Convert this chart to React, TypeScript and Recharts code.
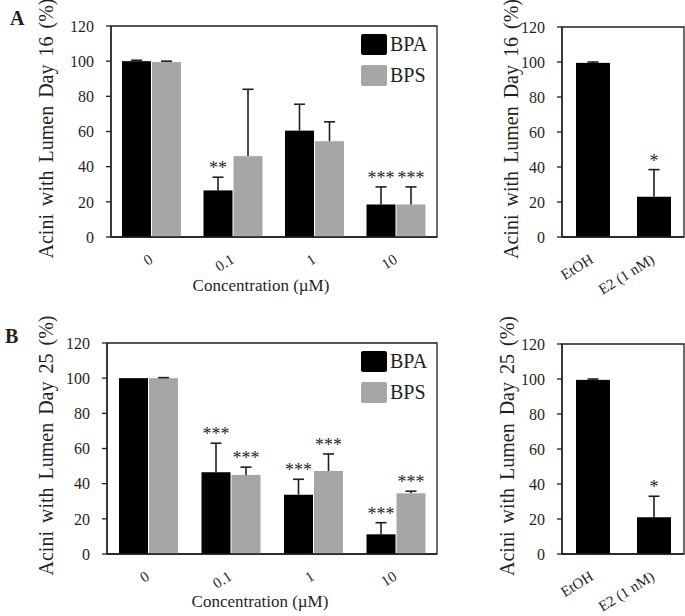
import React from 'react'
import { BarChart, Bar, XAxis, YAxis, Legend, ReferenceArea } from 'recharts'

const FONT = '"Liberation Serif", "Times New Roman", serif'
const INK = '#1f1f1f'
const BPA_COLOR = '#000000'
const BPS_COLOR = '#a6a6a6'

const concentrations = ['0', '0.1', '1', '10']
const controls = ['EtOH', 'E2 (1 nM)']
const yTicks = [0, 20, 40, 60, 80, 100, 120]

// day 16
const bpaDay16 = [100, 26.5, 60.5, 18.5]
const bpaDay16Err = [0.5, 7.5, 15, 10]
const bpaDay16Stars = ['', '**', '', '***']
const bpsDay16 = [99.5, 46, 54.5, 18.5]
const bpsDay16Err = [0.5, 38, 11, 10]
const bpsDay16Stars = ['', '', '', '***']
const ctrlDay16 = [99.5, 23]
const ctrlDay16Err = [0.5, 15.5]
const ctrlDay16Stars = ['', '*']

// day 25
const bpaDay25 = [100, 46.5, 33.7, 11.2]
const bpaDay25Err = [0, 16.5, 8.8, 6.6]
const bpaDay25Stars = ['', '***', '***', '***']
const bpsDay25 = [100, 45, 47.2, 34.5]
const bpsDay25Err = [0.3, 4.4, 9.7, 1.2]
const bpsDay25Stars = ['', '***', '***', '***']
const ctrlDay25 = [99.5, 21]
const ctrlDay25Err = [0.5, 12]
const ctrlDay25Stars = ['', '*']

type Row = Record<string, string | number>
type Series = { key: string; name: string; color: string }

function doseRows(bpa: number[], bpaErr: number[], bpaStars: string[], bps: number[], bpsErr: number[], bpsStars: string[]): Row[] {
  return concentrations.map((c, i) => ({
    name: c,
    BPA: bpa[i], BPAErr: bpaErr[i], BPAStar: bpaStars[i],
    BPS: bps[i], BPSErr: bpsErr[i], BPSStar: bpsStars[i],
  }))
}

function ctrlRows(vals: number[], errs: number[], stars: string[]): Row[] {
  return controls.map((c, i) => ({ name: c, value: vals[i], valueErr: errs[i], valueStar: stars[i] }))
}

const doseSeries: Series[] = [
  { key: 'BPA', name: 'BPA', color: BPA_COLOR },
  { key: 'BPS', name: 'BPS', color: BPS_COLOR },
]
const ctrlSeries: Series[] = [{ key: 'value', name: 'Control', color: BPA_COLOR }]

// bar + upper whisker + significance stars
const barWithError = (key: string) => (props: any) => {
  const { x, y, width, height, fill, payload } = props
  const value = Number(payload[key])
  const err = Number(payload[key + 'Err'] ?? 0)
  const star = String(payload[key + 'Star'] ?? '')
  const perUnit = value ? height / value : 0
  const cx = x + width / 2
  const top = y - err * perUnit
  return (
    <g>
      <rect x={x} y={y} width={width} height={height} fill={fill} />
      {err > 0 && (
        <>
          <line x1={cx} x2={cx} y1={y} y2={top} stroke={INK} strokeWidth={1.6} />
          <line x1={cx - 5.5} x2={cx + 5.5} y1={top} y2={top} stroke={INK} strokeWidth={1.6} />
        </>
      )}
      {star && (
        <text x={cx} y={top - 3} textAnchor="middle" fontSize={18} fontFamily={FONT} fill={INK}>
          {star}
        </text>
      )}
    </g>
  )
}

const SlantTick = (props: any) => {
  const { x, y, payload } = props
  const tx = x + 2
  const ty = y + 25
  return (
    <g transform={`translate(${tx},${ty}) rotate(-32)`}>
      <text x={0} y={0} textAnchor="end" fontSize={15} fontFamily={FONT} fill={INK}>
        {payload.value}
      </text>
    </g>
  )
}

const renderLegend = (props: any) => {
  const items = props.payload ?? []
  return (
    <div style={{ fontFamily: FONT, fontSize: 20, color: INK }}>
      {items.map((it: any) => (
        <div key={it.value} style={{ display: 'flex', alignItems: 'center', height: 22, marginBottom: 9 }}>
          <div style={{ width: 26, height: 21, borderRadius: 2, background: it.color }} />
          <span style={{ marginLeft: 3, lineHeight: '22px' }}>{it.value}</span>
        </div>
      ))}
    </div>
  )
}

type PanelProps = {
  left: number
  top: number
  width: number
  height: number
  plotLeft: number
  plotRight: number
  plotTop: number
  plotBottom: number
  rows: Row[]
  series: Series[]
  barSize: number
  yTitle: string
  yTitleX: number
  xTitle?: string
  xTitleX?: number
  xTitleY?: number
  legend?: boolean
}

function Panel(p: PanelProps) {
  const yAxisWidth = 50
  const xAxisHeight = 40
  const margin = {
    left: p.plotLeft - p.left - yAxisWidth,
    right: p.left + p.width - p.plotRight,
    top: p.plotTop - p.top,
    bottom: p.top + p.height - p.plotBottom - xAxisHeight,
  }
  const yMid = (p.plotTop + p.plotBottom) / 2 - 3 - p.top
  const yLabelX = p.yTitleX - p.left

  return (
    <div style={{ position: 'absolute', left: p.left, top: p.top }}>
      <BarChart width={p.width} height={p.height} data={p.rows} margin={margin} barGap={1} barSize={p.barSize}>
        <XAxis
          dataKey="name"
          interval={0}
          height={xAxisHeight}
          tickLine={false}
          tickSize={0}
          tickMargin={0}
          axisLine={{ stroke: INK, strokeWidth: 1.3 }}
          tick={<SlantTick />}
          label={
            p.xTitle
              ? () => (
                  <text
                    x={(p.xTitleX ?? 0) - p.left}
                    y={(p.xTitleY ?? 0) - p.top}
                    textAnchor="middle"
                    fontSize={17}
                    fontFamily={FONT}
                    fill={INK}
                  >
                    {p.xTitle}
                  </text>
                )
              : undefined
          }
        />
        <YAxis
          domain={[0, 120]}
          ticks={yTicks}
          interval={0}
          width={yAxisWidth}
          tickSize={5}
          tickMargin={12}
          axisLine={{ stroke: INK, strokeWidth: 1.3 }}
          tickLine={{ stroke: INK, strokeWidth: 1.3 }}
          tick={{ fontSize: 16, fill: INK, fontFamily: FONT }}
          label={() => (
            <text
              x={yLabelX}
              y={yMid}
              transform={`rotate(-90 ${yLabelX} ${yMid})`}
              textAnchor="middle"
              fontSize={20}
              fontFamily={FONT}
              fill={INK}
              wordSpacing={3}
            >
              {p.yTitle}
            </text>
          )}
        />
        <ReferenceArea y1={0} y2={120} fill="none" stroke={INK} strokeWidth={1.3} ifOverflow="visible" />
        {p.series.map((s) => (
          <Bar key={s.key} dataKey={s.key} name={s.name} fill={s.color} shape={barWithError(s.key)} isAnimationActive={false} />
        ))}
        {p.legend && (
          <Legend
            layout="vertical"
            align="center"
            verticalAlign="middle"
            content={renderLegend}
            wrapperStyle={{ top: p.plotTop + 7 - p.top, left: 361 - p.left, width: 80 }}
          />
        )}
      </BarChart>
    </div>
  )
}

export default function App() {
  return (
    <div style={{ position: 'absolute', left: 0, top: 0, width: 685, height: 616, background: '#fff' }}>
      <Panel
        left={0} top={0} width={445} height={300}
        plotLeft={111} plotRight={437} plotTop={26} plotBottom={237}
        rows={doseRows(bpaDay16, bpaDay16Err, bpaDay16Stars, bpsDay16, bpsDay16Err, bpsDay16Stars)}
        series={doseSeries} barSize={29}
        yTitle="Acini with Lumen Day 16 (%)" yTitleX={53}
        xTitle="Concentration (µM)" xTitleX={261} xTitleY={291}
        legend
      />
      <Panel
        left={450} top={0} width={235} height={300}
        plotLeft={562} plotRight={684} plotTop={27} plotBottom={237}
        rows={ctrlRows(ctrlDay16, ctrlDay16Err, ctrlDay16Stars)}
        series={ctrlSeries} barSize={34}
        yTitle="Acini with Lumen Day 16 (%)" yTitleX={518}
      />
      <Panel
        left={0} top={300} width={445} height={316}
        plotLeft={107} plotRight={437} plotTop={343} plotBottom={554}
        rows={doseRows(bpaDay25, bpaDay25Err, bpaDay25Stars, bpsDay25, bpsDay25Err, bpsDay25Stars)}
        series={doseSeries} barSize={29}
        yTitle="Acini with Lumen Day 25 (%)" yTitleX={53}
        xTitle="Concentration (µM)" xTitleX={260} xTitleY={607}
        legend
      />
      <Panel
        left={450} top={300} width={235} height={316}
        plotLeft={562} plotRight={684} plotTop={344} plotBottom={554}
        rows={ctrlRows(ctrlDay25, ctrlDay25Err, ctrlDay25Stars)}
        series={ctrlSeries} barSize={34}
        yTitle="Acini with Lumen Day 25 (%)" yTitleX={514}
      />
      <svg width={685} height={616} style={{ position: 'absolute', left: 0, top: 0, pointerEvents: 'none' }}>
        <text x={10} y={25} fontSize={20} fontWeight="bold" fontFamily={FONT} fill={INK}>A</text>
        <text x={5} y={343} fontSize={20} fontWeight="bold" fontFamily={FONT} fill={INK}>B</text>
      </svg>
    </div>
  )
}
